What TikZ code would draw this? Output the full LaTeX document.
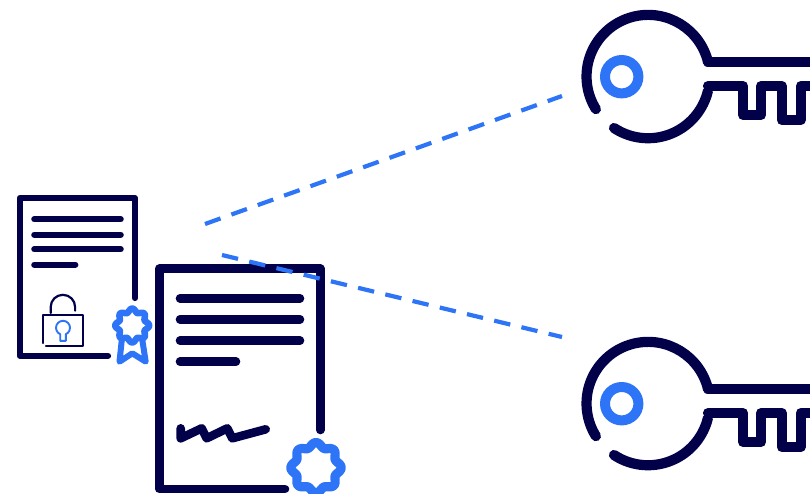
\documentclass[tikz,border=0pt]{standalone}
\usepackage{xcolor}
\usetikzlibrary{positioning}

\definecolor{navy}{HTML}{03004A}
\definecolor{azure}{HTML}{2E74F6}

\begin{document}
\begin{tikzpicture}[x=1pt, y=-1pt]
    % Define styles for the strokes
    \tikzstyle{bigline} = [navy, line width=8.6pt, line cap=round, line join=round]
    \tikzstyle{smallline} = [navy, line width=6.2pt, line cap=round, line join=round]
    \tikzstyle{lockline} = [navy, line width=2.2pt, line cap=round, line join=round]
    \tikzstyle{keyline} = [navy, line width=10.2pt, line cap=round, line join=round]
    \tikzstyle{badge} = [azure, line join=round, line cap=round]
    \tikzstyle{link} = [azure, line width=4.2pt, dash pattern=on 16.5pt off 11.5pt]

    \useasboundingbox (0,0) rectangle (810,493);

    % Small document
    \draw[smallline] (135,298) -- (135,198) -- (19.7,198) -- (19.7,355.7) -- (108,355.7);
    \draw[smallline] (34.3,219.3) -- (120.7,219.3);
    \draw[smallline] (34.3,234.7) -- (120.7,234.7);
    \draw[smallline] (34.3,249.3) -- (120.7,249.3);
    \draw[smallline] (34.3,264.7) -- (75.3,264.7);

    % Lock
    \draw[lockline] (42.7,343) -- (42.7,315) -- (82.7,315) -- (82.7,346) -- (46,346);
    \draw[lockline] (50.7,313) -- (50.7,307) arc[start angle=180, end angle=360, radius=12.2] -- (75.1,310.7);
    \draw[azure, line width=1.9pt, line join=round]
        (60.2,340.8) -- (60.2,334.2) arc[start angle=113.6, end angle=426.4, radius=7] -- (65.8,340.8) -- cycle;

    % Small badge
    \draw[badge, line width=6.5pt] plot[domain=0:360, samples=97]
        ({132.2+(15.2+1.8*cos(8*\x))*cos(\x)}, {325.5+(15.2+1.8*cos(8*\x))*sin(\x)}) -- cycle;
    \draw[badge, line width=6pt] (122,338) -- (119.5,361.7) -- (132.3,353.3) -- (145.7,361.7) -- (142,338);

    % Large document
    \draw[bigline] (320.3,430) -- (320.3,268.7) -- (159.3,268.7) -- (159.3,489) -- (285,489);
    \draw[bigline] (180,298.3) -- (300,298.3);
    \draw[bigline] (180,319.3) -- (300,319.3);
    \draw[bigline] (180,340.7) -- (300,340.7);
    \draw[bigline] (180,361.7) -- (236,361.7);

    % Signature
    \draw[bigline] (180.7,428.3) -- (180.7,438.3) -- (201.7,428.3) -- (206.7,438.3)
        -- (227.3,428.3) -- (232.3,438.3) -- (265.7,429.3);

    % Large badge
    \draw[badge, line width=9.2pt] plot[domain=0:360, samples=97]
        ({316+(23+2.2*cos(8*\x))*cos(\x)}, {467.7+(23+2.2*cos(8*\x))*sin(\x)}) -- cycle;

    % Upper key
    \draw[keyline] (708,62) arc[start angle=-13.6, end angle=-212, radius=61.6];
    \draw[keyline] (614,128) arc[start angle=123.5, end angle=13.6, radius=61.6];
    \draw[keyline] (708,62) -- (815,62);
    \draw[keyline] (708,86) -- (743,86) -- (743,115) -- (761,115) -- (761,86)
        -- (781.7,86) -- (781.7,120) -- (800.7,120) -- (800.7,86) -- (815,86);
    \draw[azure, line width=10pt] (621.7,76.7) circle[radius=16.7];

    % Lower key
    \draw[keyline] (708,389) arc[start angle=-13.6, end angle=-212, radius=61.6];
    \draw[keyline] (614,455) arc[start angle=123.5, end angle=13.6, radius=61.6];
    \draw[keyline] (708,389) -- (815,389);
    \draw[keyline] (708,413) -- (743,413) -- (743,442) -- (761,442) -- (761,413)
        -- (781.7,413) -- (781.7,447) -- (800.7,447) -- (800.7,413) -- (815,413);
    \draw[azure, line width=10pt] (621.7,403.7) circle[radius=16.7];

    % Dashed links
    \coordinate (link_a) at (205,224);
    \coordinate (key_a) at (562,96);
    \coordinate (link_b) at (222,255);
    \coordinate (key_b) at (562,337);
    \draw[link] (link_a) -- (key_a);
    \draw[link] (link_b) -- (key_b);
\end{tikzpicture}
\end{document}
